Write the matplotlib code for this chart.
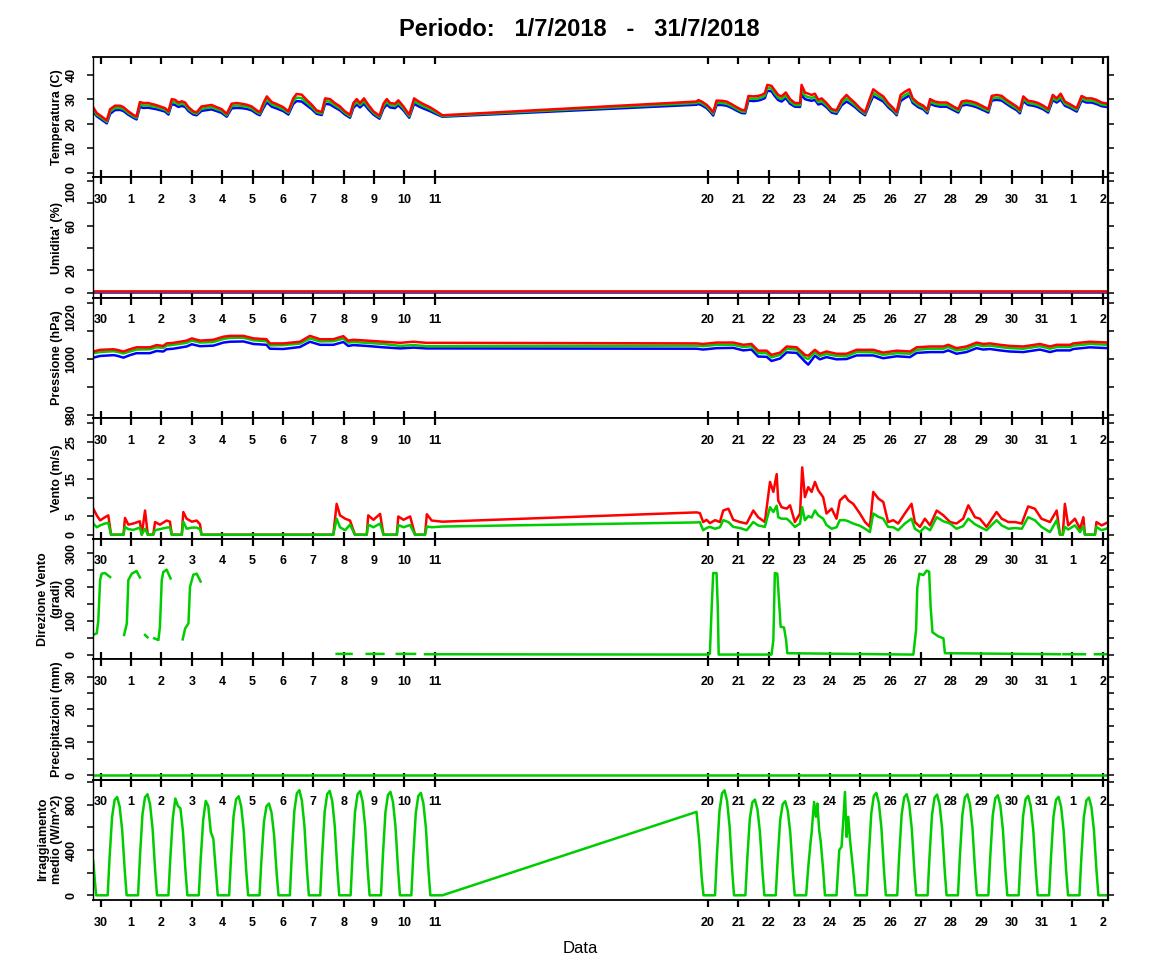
import numpy as np
import matplotlib
matplotlib.use('Agg')
import matplotlib.pyplot as plt
import matplotlib.transforms as mtransforms

plt.rcParams['font.family'] = ['Liberation Sans', 'DejaVu Sans']

RED, GREEN, BLUE = '#FF0000', '#00CD00', '#0000FF'
nan = np.nan

# x = days from 30 June 00:00 (no data between 11 and 19 July)
day_ticks = list(range(0, 12)) + list(range(20, 34))
day_labels = ['30'] + [str(d) for d in range(1, 12)] + [str(d) for d in range(20, 32)] + ['1', '2']

# temperature (C): max / mean / min
temp_t = [-0.244, -0.13, 0.03, 0.20, 0.31, 0.47, 0.64, 0.75, 0.91, 1.07,
          1.18, 1.29, 1.40, 1.57, 1.68, 1.79, 1.95, 2.12, 2.23, 2.34,
          2.45, 2.56, 2.67, 2.78, 2.89, 3.05, 3.16, 3.32, 3.49, 3.65,
          3.82, 3.98, 4.15, 4.31, 4.48, 4.64, 4.81, 4.97, 5.14, 5.24,
          5.36, 5.47, 5.63, 5.79, 6.01, 6.18, 6.34, 6.45, 6.62, 6.78,
          6.95, 7.11, 7.28, 7.39, 7.55, 7.71, 7.88, 8.04, 8.21, 8.32,
          8.43, 8.54, 8.67, 8.81, 8.98, 9.18, 9.31, 9.42, 9.53, 9.69,
          9.80, 9.97, 10.16, 10.32, 10.46, 10.62, 10.84, 11.06, 11.25,
          19.62, 19.68, 19.79, 19.95, 20.06, 20.17, 20.28, 20.45, 20.61, 20.78,
          20.94, 21.11, 21.22, 21.33, 21.49, 21.65, 21.76, 21.87, 21.95, 22.09,
          22.20, 22.31, 22.42, 22.56, 22.70, 22.86, 23.03, 23.08, 23.19, 23.30,
          23.41, 23.52, 23.63, 23.74, 23.90, 24.07, 24.23, 24.40, 24.56, 24.67,
          24.84, 25.00, 25.17, 25.33, 25.44, 25.61, 25.77, 25.93, 26.10, 26.21,
          26.34, 26.48, 26.63, 26.74, 26.92, 27.09, 27.22, 27.31, 27.47, 27.64,
          27.86, 28.08, 28.24, 28.35, 28.51, 28.68, 28.84, 29.06, 29.23, 29.34,
          29.50, 29.67, 29.83, 29.99, 30.16, 30.27, 30.38, 30.54, 30.71, 30.87,
          31.04, 31.20, 31.35, 31.48, 31.61, 31.75, 31.92, 32.14, 32.30, 32.46,
          32.63, 32.79, 32.96, 33.18]
temp_max = [26.6, 24.3, 22.9, 21.3, 25.9, 27.3, 27.3, 26.7, 25.0, 23.6,
            22.9, 28.8, 28.4, 28.4, 28.0, 27.7, 27.0, 26.3, 25.0, 30.0,
            29.7, 28.6, 29.1, 28.6, 26.7, 25.0, 24.6, 27.0, 27.3, 27.6,
            26.7, 25.9, 24.0, 28.1, 28.4, 28.1, 27.7, 27.0, 25.4, 24.6,
            28.4, 31.1, 28.8, 28.0, 26.7, 25.0, 30.3, 32.1, 31.8, 29.7,
            27.7, 25.4, 24.7, 30.3, 30.0, 28.4, 27.0, 25.0, 23.6, 28.4,
            30.0, 28.4, 30.3, 27.7, 25.0, 23.2, 28.1, 30.0, 28.4, 28.1,
            29.5, 27.0, 23.6, 30.3, 29.1, 28.0, 26.7, 25.0, 23.4,
            29.0, 29.6, 29.0, 27.7, 26.3, 24.6, 29.4, 29.3, 29.0, 27.9,
            26.7, 25.6, 25.4, 31.3, 31.1, 31.3, 31.7, 32.4, 35.8, 35.4,
            33.5, 31.7, 31.1, 32.7, 30.0, 28.4, 28.4, 35.8, 32.7, 32.2,
            31.7, 32.2, 29.7, 30.3, 28.4, 25.9, 25.4, 29.6, 31.7, 30.3,
            28.4, 26.3, 24.6, 30.3, 34.0, 32.4, 31.1, 28.4, 26.3, 24.6,
            31.7, 33.0, 34.0, 30.3, 28.4, 27.3, 25.6, 30.0, 29.0, 28.6,
            28.6, 27.0, 25.9, 29.0, 29.4, 29.0, 28.4, 27.0, 25.9, 31.3,
            31.7, 31.3, 29.7, 28.4, 27.0, 25.6, 31.1, 29.3, 29.0, 28.4,
            27.3, 25.9, 31.7, 30.3, 32.2, 29.0, 27.9, 26.3, 31.3, 30.3,
            30.3, 29.7, 28.6, 28.1]
temp_mean = [25.6, 23.6, 22.3, 20.7, 24.9, 26.4, 26.4, 25.9, 24.3, 23.0,
             22.3, 27.8, 27.4, 27.4, 27.1, 26.9, 26.3, 25.6, 24.4, 29.0,
             28.6, 27.7, 28.2, 27.7, 25.9, 24.4, 24.0, 26.1, 26.4, 26.7,
             25.9, 25.2, 23.4, 27.2, 27.4, 27.2, 26.9, 26.2, 24.7, 24.0,
             27.4, 29.9, 27.9, 27.1, 25.9, 24.4, 29.2, 30.6, 30.4, 28.6,
             26.8, 24.7, 24.1, 29.2, 28.9, 27.5, 26.2, 24.4, 23.0, 27.4,
             28.9, 27.5, 29.2, 26.8, 24.4, 22.6, 27.1, 28.9, 27.5, 27.2,
             28.5, 26.2, 23.0, 29.2, 28.1, 27.1, 25.9, 24.4, 23.1,
             28.4, 28.8, 28.3, 27.0, 25.6, 24.0, 28.5, 28.4, 28.1, 27.1,
             26.0, 24.9, 24.8, 30.3, 30.1, 30.3, 30.7, 31.4, 34.6, 34.3,
             32.3, 30.6, 30.0, 31.5, 29.0, 27.6, 27.5, 33.8, 31.3, 30.8,
             30.5, 30.9, 28.7, 29.2, 27.5, 25.2, 24.7, 28.5, 30.3, 29.2,
             27.5, 25.6, 24.0, 29.2, 32.5, 31.2, 30.0, 27.5, 25.6, 24.0,
             30.4, 31.6, 32.7, 29.3, 27.5, 26.5, 24.9, 29.0, 28.1, 27.7,
             27.7, 26.2, 25.2, 28.1, 28.5, 28.1, 27.5, 26.2, 25.2, 30.3,
             30.6, 30.3, 28.8, 27.5, 26.2, 24.9, 30.1, 28.4, 28.1, 27.5,
             26.5, 25.2, 30.5, 29.4, 30.9, 28.1, 27.1, 25.6, 30.3, 29.4,
             29.4, 28.8, 27.8, 27.4]
temp_min = [24.8, 23.0, 21.6, 20.1, 24.0, 25.5, 25.6, 25.1, 23.6, 22.4,
            21.7, 26.8, 26.4, 26.5, 26.2, 26.0, 25.5, 24.9, 23.7, 28.0,
            27.6, 26.8, 27.2, 26.8, 25.1, 23.7, 23.4, 25.2, 25.5, 25.8,
            25.1, 24.4, 22.8, 26.2, 26.4, 26.3, 26.0, 25.4, 24.0, 23.4,
            26.4, 28.7, 26.9, 26.2, 25.1, 23.7, 28.0, 29.2, 29.0, 27.5,
            25.9, 24.0, 23.5, 28.1, 27.8, 26.6, 25.4, 23.7, 22.4, 26.4,
            27.8, 26.6, 28.1, 25.9, 23.7, 22.0, 26.1, 27.8, 26.6, 26.3,
            27.5, 25.4, 22.4, 28.1, 27.1, 26.2, 25.1, 23.8, 22.8,
            27.7, 28.0, 27.5, 26.3, 24.9, 23.3, 27.6, 27.6, 27.3, 26.4,
            25.3, 24.3, 24.2, 29.4, 29.2, 29.4, 29.8, 30.4, 33.4, 33.2,
            31.2, 29.6, 29.0, 30.4, 28.1, 26.9, 26.8, 32.0, 30.0, 29.6,
            29.3, 29.7, 27.8, 28.2, 26.7, 24.5, 24.0, 27.5, 29.0, 28.2,
            26.7, 24.9, 23.4, 28.2, 31.2, 30.1, 29.0, 26.7, 24.9, 23.4,
            29.2, 30.4, 31.5, 28.4, 26.7, 25.8, 24.2, 28.1, 27.3, 26.9,
            26.9, 25.5, 24.5, 27.3, 27.7, 27.3, 26.7, 25.5, 24.5, 29.4,
            29.7, 29.4, 28.0, 26.7, 25.5, 24.2, 29.2, 27.6, 27.3, 26.7,
            25.8, 24.5, 29.6, 28.6, 29.8, 27.3, 26.4, 24.9, 29.4, 28.6,
            28.6, 28.0, 27.1, 26.7]

# humidity (%) - sensor reading close to zero all period
hum_t = [-0.244, 11.25, 19.62, 33.18]
hum_max = [1.3, 1.3, 1.3, 1.3]
hum_mean = [1.0, 1.0, 1.0, 1.0]
hum_min = [0.7, 0.7, 0.7, 0.7]

# pressure (hPa)
pres_t = [-0.244, -0.02, 0.42, 0.53, 0.75, 0.96, 1.18, 1.62, 1.84, 2.06,
          2.17, 2.39, 2.83, 3.00, 3.27, 3.71, 4.04, 4.26, 4.70, 5.03,
          5.46, 5.57, 6.01, 6.56, 6.89, 7.22, 7.66, 7.99, 8.15, 8.32,
          8.76, 9.31, 9.86, 10.30, 10.73, 11.25,
          19.62, 19.84, 20.28, 20.83, 21.16, 21.43, 21.65, 21.93, 22.09, 22.37,
          22.59, 22.92, 23.19, 23.30, 23.52, 23.68, 23.90, 24.23, 24.56, 24.89,
          25.44, 25.77, 26.21, 26.65, 26.87, 27.31, 27.75, 27.91, 28.18, 28.51,
          28.84, 29.06, 29.28, 29.61, 29.94, 30.38, 30.93, 31.26, 31.48, 31.92,
          32.03, 32.57, 33.18]
pres_max = [1002.6, 1003.2, 1003.4, 1003.2, 1002.6, 1003.4, 1004.1, 1004.1, 1004.9, 1004.6,
            1005.5, 1005.7, 1006.5, 1007.3, 1006.5, 1006.8, 1007.9, 1008.2, 1008.2, 1007.3,
            1007.0, 1005.5, 1005.5, 1006.1, 1008.2, 1007.0, 1007.0, 1008.1, 1006.5, 1006.8,
            1006.5, 1006.1, 1005.7, 1006.1, 1005.7, 1005.7,
            1005.5, 1005.3, 1005.8, 1005.8, 1005.0, 1005.3, 1002.9, 1002.9, 1001.4, 1002.2,
            1004.4, 1004.1, 1001.4, 1001.1, 1003.2, 1001.8, 1002.6, 1001.8, 1001.8, 1003.2,
            1003.2, 1002.2, 1002.9, 1002.6, 1004.1, 1004.4, 1004.4, 1005.0, 1003.8, 1004.4,
            1005.8, 1005.3, 1005.5, 1005.0, 1004.6, 1004.4, 1005.3, 1004.4, 1005.0, 1005.0,
            1005.5, 1006.1, 1005.8]
pres_mean = [1002.0, 1002.4, 1002.7, 1002.5, 1001.9, 1002.6, 1003.3, 1003.4, 1004.1, 1003.9,
             1004.7, 1005.0, 1005.7, 1006.5, 1005.8, 1006.0, 1007.1, 1007.5, 1007.5, 1006.6,
             1006.3, 1004.8, 1004.9, 1005.4, 1007.3, 1006.2, 1006.3, 1007.2, 1005.8, 1006.0,
             1005.7, 1005.3, 1004.6, 1004.9, 1004.5, 1004.5,
             1004.7, 1004.5, 1005.0, 1005.0, 1004.2, 1004.5, 1002.0, 1002.0, 1000.5, 1001.4,
             1003.5, 1003.3, 1000.4, 999.9, 1002.3, 1001.0, 1001.7, 1001.0, 1000.9, 1002.4,
             1002.3, 1001.4, 1002.0, 1001.8, 1003.2, 1003.6, 1003.6, 1004.2, 1003.0, 1003.5,
             1005.0, 1004.5, 1004.7, 1004.2, 1003.8, 1003.6, 1004.5, 1003.6, 1004.2, 1004.2,
             1004.7, 1005.3, 1005.0]
pres_min = [1000.4, 1001.0, 1001.3, 1001.1, 1000.4, 1001.3, 1002.0, 1002.0, 1002.8, 1002.6,
            1003.4, 1003.6, 1004.4, 1005.2, 1004.5, 1004.7, 1005.8, 1006.1, 1006.2, 1005.3,
            1005.0, 1003.6, 1003.5, 1004.2, 1006.1, 1005.0, 1005.0, 1006.0, 1004.6, 1004.9,
            1004.6, 1004.1, 1003.7, 1004.0, 1003.7, 1003.7,
            1003.6, 1003.3, 1003.8, 1003.9, 1003.0, 1003.3, 1000.8, 1000.7, 999.2, 1000.1,
            1002.3, 1002.1, 999.0, 997.9, 1001.1, 999.8, 1000.6, 999.8, 999.9, 1001.2,
            1001.2, 1000.2, 1000.9, 1000.6, 1002.1, 1002.4, 1002.4, 1003.0, 1001.8, 1002.4,
            1003.8, 1003.3, 1003.5, 1003.0, 1002.6, 1002.4, 1003.3, 1002.4, 1003.0, 1003.0,
            1003.5, 1004.1, 1003.8]

# wind speed (m/s): gust / mean
wind_t = [-0.244, -0.13, -0.02, 0.14, 0.25, 0.34, 0.75, 0.80, 0.91, 1.07,
          1.29, 1.35, 1.46, 1.55, 1.73, 1.79, 1.95, 2.17, 2.28, 2.34,
          2.67, 2.72, 2.83, 3.00, 3.16, 3.27, 3.32, 7.66, 7.77, 7.88,
          8.05, 8.21, 8.37, 8.76, 8.81, 8.98, 9.20, 9.31, 9.75, 9.80,
          9.97, 10.19, 10.35, 10.68, 10.74, 10.90, 11.25,
          19.62, 19.73, 19.84, 19.95, 20.06, 20.23, 20.39, 20.50, 20.67, 20.83,
          21.05, 21.27, 21.49, 21.65, 21.87, 22.04, 22.15, 22.26, 22.31, 22.42,
          22.59, 22.70, 22.86, 23.03, 23.10, 23.19, 23.30, 23.41, 23.52, 23.63,
          23.79, 23.90, 24.07, 24.23, 24.34, 24.51, 24.62, 24.78, 25.00, 25.17,
          25.33, 25.44, 25.61, 25.77, 25.93, 26.10, 26.26, 26.48, 26.70, 26.81,
          26.98, 27.14, 27.31, 27.53, 27.75, 27.97, 28.18, 28.40, 28.57, 28.79,
          28.95, 29.17, 29.50, 29.67, 29.89, 30.11, 30.33, 30.54, 30.76, 30.98,
          31.26, 31.48, 31.59, 31.68, 31.75, 31.86, 32.08, 32.25, 32.36, 32.41,
          32.74, 32.79, 32.96, 33.18]
wind_max = [7.0, 5.2, 3.85, 4.7, 5.2, 0, 0, 4.5, 2.7, 3.0,
            3.6, 0, 6.5, 0, 0, 3.4, 2.7, 3.8, 3.5, 0,
            0, 6.1, 4.3, 3.5, 3.8, 2.8, 0, 0, 8.3, 5.2,
            4.3, 3.8, 0, 0, 5.2, 4.0, 5.6, 0, 0, 4.9,
            4.0, 4.9, 0, 0, 5.5, 3.8, 3.5,
            6.0, 5.8, 3.4, 4.0, 3.1, 3.9, 3.4, 6.5, 7.0, 4.0,
            3.4, 3.0, 6.5, 4.7, 3.4, 14.2, 11.5, 16.3, 9.2, 7.4,
            7.0, 7.9, 3.4, 5.7, 18.1, 10.1, 12.8, 11.5, 14.2, 11.9,
            10.1, 5.7, 7.0, 4.3, 9.2, 10.5, 9.2, 8.3, 5.7, 3.4,
            2.1, 11.5, 9.7, 8.8, 3.4, 3.9, 3.0, 5.7, 8.3, 3.4,
            2.1, 4.3, 2.5, 6.5, 5.2, 3.4, 3.0, 4.3, 7.9, 4.7,
            4.3, 2.1, 6.1, 4.3, 3.4, 3.4, 3.0, 7.6, 7.0, 4.3,
            3.4, 6.5, 0, 0, 8.3, 2.5, 4.3, 1.6, 4.7, 0,
            0, 3.4, 2.5, 3.4]
wind_mean = [3.0, 2.0, 2.5, 3.0, 3.2, 0, 0, 2.1, 1.5, 1.3,
             1.9, 0, 1.6, 0, 0, 1.2, 1.5, 1.9, 2.0, 0,
             0, 3.5, 1.6, 1.9, 1.9, 1.5, 0, 0, 4.3, 2.0,
             1.2, 2.7, 0, 0, 2.7, 2.0, 3.0, 0, 0, 2.6,
             2.0, 2.6, 0, 0, 2.2, 2.0, 2.2,
             3.3, 3.4, 1.2, 1.8, 2.1, 1.6, 2.0, 3.9, 3.4, 2.1,
             1.8, 1.2, 3.4, 2.5, 2.1, 7.4, 6.1, 7.8, 4.7, 4.3,
             4.3, 3.5, 2.1, 3.0, 7.4, 3.9, 5.0, 4.6, 6.5, 5.2,
             4.3, 2.6, 1.6, 2.0, 3.9, 3.9, 3.6, 3.0, 2.4, 1.6,
             0.7, 5.7, 4.8, 4.3, 2.1, 2.0, 1.2, 3.0, 4.3, 1.6,
             0.7, 2.1, 1.2, 4.7, 3.6, 3.0, 1.6, 2.3, 4.3, 2.8,
             2.1, 1.2, 3.9, 2.5, 1.6, 1.8, 1.6, 4.7, 3.9, 2.1,
             0.7, 3.9, 0, 0, 2.1, 1.4, 2.5, 0.7, 2.3, 0,
             0, 2.1, 1.2, 1.8]

# wind direction (degrees), nan = calm / no reading
dir_t = [-0.244, -0.13, -0.08, -0.02, 0.03, 0.14, 0.31, 0.33,
         0.77, 0.86, 0.91, 1.02, 1.18, 1.29, 1.30,
         1.46, 1.54, 1.56,
         1.76, 1.90, 1.95, 2.01, 2.06, 2.17, 2.30, 2.32,
         2.70, 2.78, 2.89, 2.94, 3.05, 3.16, 3.29, 3.31,
         7.77, 8.26, 8.30,
         8.76, 9.31, 9.35,
         9.75, 10.35, 10.40,
         10.68, 11.25,
         19.62, 20.01, 20.06, 20.12, 20.17, 20.28, 20.32, 20.35,
         22.09, 22.15, 22.20, 22.28, 22.35, 22.39, 22.50, 22.57, 22.61,
         26.76, 26.85, 26.89, 26.96, 27.09, 27.20, 27.28, 27.33, 27.39, 27.58, 27.75, 27.80,
         31.59, 31.62, 31.70, 32.41, 32.45, 32.74, 33.18]
dir_v = [58, 63, 100, 220, 239, 241, 229, nan,
         58, 92, 220, 239, 247, 228, nan,
         58, 51, nan,
         48, 43, 82, 220, 244, 251, 225, nan,
         45, 77, 92, 200, 236, 239, 216, nan,
         2, 2, nan,
         2, 2, nan,
         2, 2, nan,
         1, 1,
         0, 0, 3, 141, 241, 241, 141, 0,
         0, 43, 241, 239, 141, 82, 80, 43, 4,
         0, 73, 198, 239, 235, 248, 245, 141, 66, 54, 48, 4,
         1, nan, 1, 1, nan, 1, 1]

# rain (mm)
rain_t = [-0.244, 11.25, 19.62, 33.18]
rain_v = [0, 0, 0, 0]

# solar radiation (W/m^2): one curve per day, sampled at rad_hours
rad_hours = [5.5, 7, 9, 11, 13, 15, 17, 19, 20.5]
rad_days = [0, 1, 2, 3, 4, 5, 6, 7, 8, 9, 10,
            20, 21, 22, 25, 26, 27, 28, 29, 30, 31, 32]
rad_curves = [[0, 331, 696, 844, 870, 783, 574, 218, 0],
              [0, 340, 715, 867, 894, 805, 590, 224, 0],
              [0, 325, 685, 856, 790, 770, 565, 214, 0],
              [0, 317, 668, 835, 790, 560, 500, 209, 0],
              [0, 333, 701, 850, 876, 788, 578, 219, 0],
              [0, 309, 650, 788, 812, 731, 536, 203, 0],
              [0, 353, 744, 902, 930, 837, 614, 233, 0],
              [0, 351, 739, 896, 924, 832, 610, 231, 0],
              [0, 350, 738, 894, 922, 830, 609, 231, 0],
              [0, 348, 732, 888, 915, 824, 604, 229, 0],
              [0, 344, 725, 879, 906, 815, 598, 227, 0],
              [0, 353, 743, 901, 929, 836, 613, 232, 0],
              [0, 322, 678, 822, 847, 762, 559, 212, 0],
              [0, 316, 666, 807, 832, 749, 549, 208, 0],
              [0, 344, 725, 879, 906, 815, 598, 227, 0],
              [0, 340, 715, 867, 894, 805, 590, 224, 0],
              [0, 339, 713, 864, 891, 802, 588, 223, 0],
              [0, 340, 715, 867, 894, 805, 590, 224, 0],
              [0, 336, 708, 858, 885, 797, 584, 221, 0],
              [0, 334, 703, 853, 879, 791, 580, 220, 0],
              [0, 331, 697, 845, 871, 784, 575, 218, 0],
              [0, 329, 692, 839, 865, 779, 571, 216, 0]]
rad_d23_hours = [5.5, 7.2, 9.1, 9.8, 10.6, 11.8, 13.2, 14.4, 15.8, 17.0, 19.0, 20.4]
rad_d23 = [0, 250, 480, 547, 665, 826, 694, 812, 576, 480, 220, 0]
rad_d24_hours = [5.5, 7.7, 9.5, 10.9, 12.2, 13.5, 14.8, 16.2, 18.5, 20.5]
rad_d24 = [0, 400, 430, 665, 914, 517, 694, 488, 240, 0]
rad_start_t = [-0.244, -0.19, -0.15]
rad_start_v = [300, 120, 0]
rad_resume_t = [19.62, 19.71, 19.79, 19.85]
rad_resume_v = [738, 480, 160, 0]

# build radiation series
curves = {d: (rad_hours, c) for d, c in zip(rad_days, rad_curves)}
curves[23] = (rad_d23_hours, rad_d23)
curves[24] = (rad_d24_hours, rad_d24)
rad_t, rad_v = list(rad_start_t), list(rad_start_v)
for d in sorted(curves):
    if d == 20:
        rad_t += [11.25] + rad_resume_t
        rad_v += [0] + rad_resume_v
    hrs, vals = curves[d]
    rad_t += [d + h / 24.0 for h in hrs]
    rad_v += vals
rad_t.append(33.18)
rad_v.append(0)

# ---- layout (R style stacked panels) ----
FW, FH = 1152.0, 972.0
X0, X1 = 93.3, 1108.3
Y0, Y1 = 57.0, 900.0
PH = (Y1 - Y0) / 7

panels = [
    ('Temperatura (C)', (-2.0, 47.2), range(0, 41, 10), [0, 10, 20, 30, 40]),
    ("Umidita' (%)", (-4.8, 103.3), range(0, 101, 20), [0, 20, 60, 100]),
    ('Pressione (hPa)', (978.7, 1021.8), range(980, 1021, 10), [980, 1000, 1020]),
    ('Vento (m/s)', (-1.08, 31.3), range(0, 31, 5), [0, 5, 15, 25]),
    ('Direzione Vento\n(gradi)', (-13.5, 342.4), range(0, 301, 50), [0, 100, 200, 300]),
    ('Precipitazioni (mm)', (-1.31, 35.3), range(0, 31, 5), [0, 10, 20, 30]),
    ('Irraggiamento\nmedio (W/m^2)', (-41.5, 1023.8), range(0, 1001, 200), [0, 400, 800]),
]
# tick labels sitting on a panel border are nudged off it so they do not collide
edge_align = {(0, 0): 'bottom', (1, 100): 'top', (1, 0): 'bottom', (2, 1020): 'top'}

fig = plt.figure(figsize=(11.52, 9.72), dpi=100)
fig.patch.set_facecolor('white')
axs = []
for i, (ylab, ylim, ticks, shown) in enumerate(panels):
    top = Y0 + i * PH
    ax = fig.add_axes([X0 / FW, 1 - (top + PH) / FH, (X1 - X0) / FW, PH / FH])
    ax.set_xlim(-0.244, 33.18)
    ax.set_ylim(*ylim)
    ticks = list(ticks)
    ax.set_yticks(ticks, labels=[str(t) if t in shown else '' for t in ticks])
    for t, lab in zip(ticks, ax.get_yticklabels()):
        lab.set_rotation(90)
        lab.set_va(edge_align.get((i, t), 'center'))
        lab.set_fontweight('bold')
    ax.tick_params(axis='y', left=True, right=True, direction='out', length=4.5,
                   width=1.1, labelsize=9, pad=7)
    ax.set_xticks(day_ticks)
    ax.tick_params(axis='x', top=True, bottom=True, direction='in', length=5,
                   width=1.6, labelbottom=False)
    ax.set_ylabel(ylab, fontsize=9, fontweight='bold')
    ax.yaxis.set_label_coords(-0.03, 0.5)
    ax.spines['left'].set_linewidth(1.0)
    ax.spines['right'].set_linewidth(1.6)
    ax.spines['top'].set_linewidth(1.3)
    ax.spines['bottom'].set_linewidth(1.3)
    if i > 0:
        trans = mtransforms.blended_transform_factory(ax.transData, ax.transAxes)
        for d, lab in zip(day_ticks, day_labels):
            ax.text(d, 1 - 22.5 / PH, lab, transform=trans, ha='center', va='center',
                    fontsize=9, fontweight='bold')
    axs.append(ax)

lw = 1.8
ax = axs[0]
ax.plot(temp_t, temp_min, color=BLUE, lw=lw)
ax.plot(temp_t, temp_mean, color=GREEN, lw=lw)
ax.plot(temp_t, temp_max, color=RED, lw=lw)

ax = axs[1]
ax.plot(hum_t, hum_min, color=BLUE, lw=lw)
ax.plot(hum_t, hum_mean, color=GREEN, lw=lw)
ax.plot(hum_t, hum_max, color=RED, lw=lw)

ax = axs[2]
ax.plot(pres_t, pres_min, color=BLUE, lw=lw)
ax.plot(pres_t, pres_mean, color=GREEN, lw=lw)
ax.plot(pres_t, pres_max, color=RED, lw=lw)

ax = axs[3]
ax.plot(wind_t, wind_max, color=RED, lw=lw)
ax.plot(wind_t, wind_mean, color=GREEN, lw=lw)

axs[4].plot(dir_t, dir_v, color=GREEN, lw=lw)
axs[5].plot(rain_t, rain_v, color=GREEN, lw=lw)
axs[6].plot(rad_t, rad_v, color=GREEN, lw=lw)

# bottom axis: outward ticks with labels, inward ticks on top
ax = axs[6]
ax.set_xticks(day_ticks, labels=day_labels)
ax.tick_params(axis='x', top=False, bottom=True, direction='out', length=5,
               width=1.6, labelbottom=True, labelsize=9, pad=7)
for lab in ax.get_xticklabels():
    lab.set_fontweight('bold')
sec = ax.secondary_xaxis('top')
sec.set_xticks(day_ticks)
sec.tick_params(direction='in', length=5, width=1.6, labeltop=False)
sec.spines['top'].set_linewidth(1.3)

fig.text(579 / FW, 1 - 30 / FH, 'Periodo:   1/7/2018   -   31/7/2018',
         ha='center', va='center', fontsize=17, fontweight='bold')
fig.text(580 / FW, 1 - 948 / FH, 'Data', ha='center', va='center', fontsize=12)

fig.savefig('out.png', dpi=100, facecolor='white')
